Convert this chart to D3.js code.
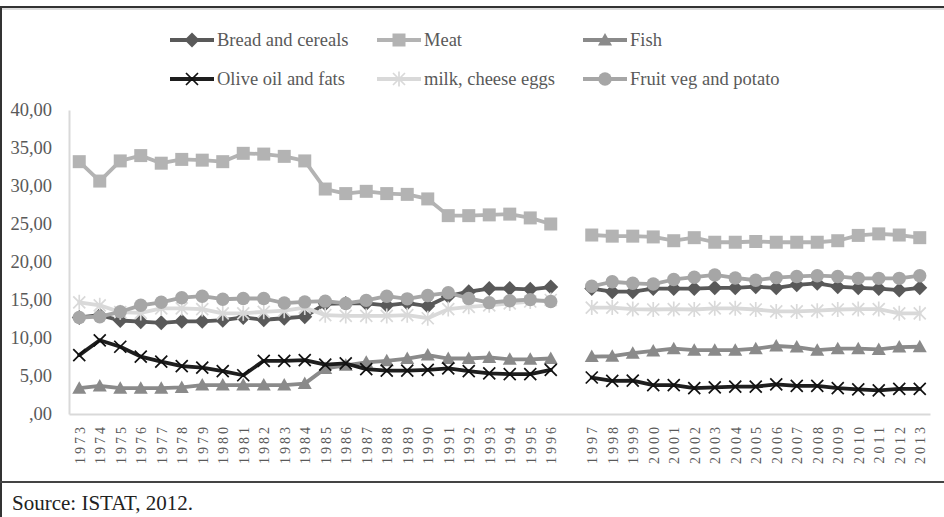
<!DOCTYPE html>
<html><head><meta charset="utf-8">
<script src="https://cdn.jsdelivr.net/npm/d3@7"></script>
<style>
html,body{margin:0;padding:0;background:#fff;}
svg{display:block;}
text{font-family:"Liberation Serif","Times New Roman",serif;}
</style>
</head><body>
<svg id="c" width="944" height="517"></svg>
<script>
// ---- data (gap category "" between 1996 and 1997) ----
const categories = ["1973","1974","1975","1976","1977","1978","1979","1980","1981","1982","1983","1984",
  "1985","1986","1987","1988","1989","1990","1991","1992","1993","1994","1995","1996","",
  "1997","1998","1999","2000","2001","2002","2003","2004","2005","2006","2007","2008","2009","2010","2011","2012","2013"];

const breadCereals = [12.7,13.0,12.3,12.15,12.0,12.2,12.2,12.35,12.7,12.4,12.6,12.8,
  14.5,14.55,14.55,14.3,14.6,14.2,15.5,16.1,16.5,16.5,16.4,16.7,null,
  16.5,16.1,16.1,16.5,16.5,16.5,16.6,16.6,16.75,16.6,17.0,17.2,16.75,16.6,16.5,16.3,16.6];
const meat = [33.2,30.65,33.3,34.0,33.0,33.5,33.4,33.2,34.3,34.2,33.9,33.3,
  29.6,29.0,29.3,29.0,28.9,28.3,26.1,26.1,26.2,26.3,25.8,25.0,null,
  23.55,23.4,23.4,23.3,22.8,23.2,22.6,22.6,22.7,22.6,22.6,22.6,22.8,23.5,23.7,23.55,23.2];
const fish = [3.4,3.7,3.4,3.4,3.4,3.5,3.8,3.8,3.8,3.8,3.8,4.0,
  6.0,6.4,6.8,7.0,7.3,7.75,7.3,7.3,7.45,7.2,7.2,7.3,null,
  7.55,7.6,8.0,8.3,8.6,8.4,8.4,8.4,8.6,8.95,8.8,8.4,8.6,8.6,8.5,8.8,8.85];
const oliveOilFats = [7.75,9.7,8.85,7.55,6.9,6.3,6.1,5.65,5.1,7.0,7.0,7.1,
  6.5,6.65,5.9,5.7,5.7,5.8,6.0,5.65,5.35,5.25,5.25,5.8,null,
  4.8,4.35,4.4,3.8,3.8,3.4,3.5,3.6,3.6,3.9,3.7,3.7,3.4,3.25,3.1,3.3,3.3];
const milkCheeseEggs = [14.7,14.3,13.4,13.3,13.9,13.9,13.8,13.25,13.25,13.45,13.6,14.0,
  13.0,12.9,12.9,12.9,13.0,12.6,13.8,14.1,14.3,14.55,14.8,15.0,null,
  14.0,14.0,13.8,13.75,13.8,13.75,13.9,13.9,13.75,13.5,13.5,13.6,13.75,13.8,13.8,13.25,13.25];
const fruitVegPotato = [12.7,12.8,13.45,14.3,14.7,15.3,15.5,15.1,15.2,15.2,14.6,14.75,
  14.85,14.55,14.95,15.5,15.15,15.6,15.95,15.2,14.65,14.9,15.05,14.8,null,
  16.8,17.4,17.2,17.1,17.7,18.0,18.3,17.9,17.6,17.95,18.1,18.2,18.1,17.85,17.85,17.85,18.2];

const seriesNames = ["Bread and cereals","Meat","Fish","Olive oil and fats","milk, cheese eggs","Fruit veg and potato"];
const seriesValues = [breadCereals, meat, fish, oliveOilFats, milkCheeseEggs, fruitVegPotato];
const yTicks = [0,5,10,15,20,25,30,35,40];
const sourceText = "Source: ISTAT, 2012.";

// ---- styles ----
const styles = [
  {color:"#595959", marker:"diamond"},
  {color:"#b3b3b3", marker:"square"},
  {color:"#8a8a8a", marker:"triangle"},
  {color:"#1e1e1e", marker:"x", mcolor:"#111"},
  {color:"#d9d9d9", marker:"asterisk"},
  {color:"#a6a6a6", marker:"circle"}
];

const svg = d3.select("#c");
const W = 944, H = 517;

// frame
svg.append("line").attr("x1",0).attr("x2",W).attr("y1",7).attr("y2",7).attr("stroke","#333").attr("stroke-width",2);
svg.append("line").attr("x1",0).attr("x2",W).attr("y1",9).attr("y2",9).attr("stroke","#bbb").attr("stroke-width",1);
svg.append("line").attr("x1",1).attr("x2",1).attr("y1",7).attr("y2",H).attr("stroke","#333").attr("stroke-width",2);
svg.append("line").attr("x1",0).attr("x2",W).attr("y1",482).attr("y2",482).attr("stroke","#444").attr("stroke-width",2);

const x = d3.scalePoint().domain(categories).range([69,930]).padding(0.5);
const y = d3.scaleLinear().domain([0,40]).range([414,110]);

// y axis
const fmt = d => d === 0 ? ",00" : d.toFixed(2).replace(".", ",");
const gy = svg.append("g").attr("transform","translate(69,0)")
  .call(d3.axisLeft(y).tickValues(yTicks).tickSize(0).tickPadding(17).tickFormat(fmt));
gy.select(".domain").attr("stroke","#d9d9d9").attr("stroke-width",2);
gy.selectAll("text").attr("font-family","Liberation Serif").attr("font-size",18.5).attr("fill","#595959");

// x axis
const gx = svg.append("g").attr("transform","translate(0,414)")
  .call(d3.axisBottom(x).tickSize(0).tickSizeOuter(0));
gx.select(".domain").attr("stroke","#d9d9d9").attr("stroke-width",2);
gx.selectAll("text")
  .attr("font-family","Liberation Serif").attr("font-size",14).attr("fill","#595959")
  .attr("letter-spacing","3px")
  .attr("transform","rotate(-90)")
  .attr("text-anchor","end")
  .attr("x",-10).attr("y",0).attr("dy","0.36em");

// markers
function markerPath(type){
  switch(type){
    case "diamond": return "M0,-7.5L7.5,0L0,7.5L-7.5,0Z";
    case "square": return "M-6.5,-6.5H6.5V6.5H-6.5Z";
    case "triangle": return "M0,-7L7,5.5H-7Z";
    case "circle": return "M6.7,0A6.7,6.7 0 1 1 -6.7,0A6.7,6.7 0 1 1 6.7,0Z";
    case "x": return "M-6,-6L6,6M-6,6L6,-6";
    case "asterisk": return "M-6,-6L6,6M-6,6L6,-6M0,-7.5V7.5";
  }
}
function drawMarker(sel, st){
  const stroked = st.marker === "x" || st.marker === "asterisk";
  sel.attr("d", markerPath(st.marker))
    .attr("fill", stroked ? "none" : st.color)
    .attr("stroke", stroked ? (st.mcolor || st.color) : "none")
    .attr("stroke-width", stroked ? 1.7 : 0);
}

const line = d3.line()
  .defined(d => d.v != null)
  .x(d => x(d.c)).y(d => y(d.v));

seriesValues.forEach((vals, si) => {
  const st = styles[si];
  const data = vals.map((v,i) => ({c: categories[i], v}));
  const g = svg.append("g");
  g.append("path").datum(data).attr("d", line)
    .attr("fill","none").attr("stroke", st.color).attr("stroke-width",3.8)
    .attr("stroke-linejoin","round").attr("stroke-linecap","round");
  g.selectAll("path.m").data(data.filter(d => d.v != null)).enter().append("path")
    .attr("class","m")
    .attr("transform", d => `translate(${x(d.c)},${y(d.v)})`)
    .call(s => drawMarker(s, st));
});

// legend
const legX = [170, 377, 583];
const legY = [40, 79];
seriesNames.forEach((name, i) => {
  const st = styles[i];
  const lx = legX[i % 3], ly = legY[Math.floor(i / 3)];
  const g = svg.append("g").attr("transform", `translate(${lx},${ly})`);
  g.append("line").attr("x1",0).attr("x2",44).attr("y1",0).attr("y2",0)
    .attr("stroke", st.color).attr("stroke-width",3.8);
  g.append("path").attr("transform","translate(22,0)").call(s => drawMarker(s, st));
  g.append("text").attr("x",47).attr("y",0).attr("dy","0.34em")
    .attr("font-size",18.5).attr("fill","#595959").text(name);
});

// source
svg.append("text").attr("x",12).attr("y",510).attr("font-size",21).attr("fill","#222").text(sourceText);
</script>
</body></html>
